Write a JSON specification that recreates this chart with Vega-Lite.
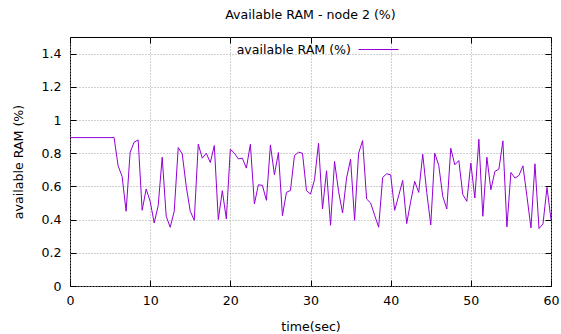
{
  "$schema": "https://vega.github.io/schema/vega-lite/v6.json",
  "width": 481,
  "height": 249,
  "autosize": {"type": "none"},
  "padding": {"left": 70, "top": 37, "right": 10, "bottom": 48},
  "background": "white",
  "title": {"text": "Available RAM - node 2 (%)", "font": "DejaVu Sans", "fontSize": 12.6, "fontWeight": "normal", "color": "black", "offset": 7.5},
  "config": {
    "view": {"stroke": "black", "strokeWidth": 1},
    "axis": {"labelFont": "DejaVu Sans", "labelFontSize": 12.6, "labelColor": "black", "titleFont": "DejaVu Sans", "titleFontSize": 12.6, "titleFontWeight": "normal", "titleColor": "black", "domain": false, "tickColor": "black", "gridColor": "#a0a0a0", "gridDash": [1, 2], "gridWidth": 1, "labelFlush": false}
  },
  "data": {"values": [
    {"t": 0, "v": 0.894, "s": "available RAM (%)"},
    {"t": 5.5, "v": 0.894, "s": "available RAM (%)"},
    {"t": 6.0, "v": 0.724, "s": "available RAM (%)"},
    {"t": 6.5, "v": 0.66, "s": "available RAM (%)"},
    {"t": 7.0, "v": 0.45, "s": "available RAM (%)"},
    {"t": 7.5, "v": 0.806, "s": "available RAM (%)"},
    {"t": 8.0, "v": 0.866, "s": "available RAM (%)"},
    {"t": 8.5, "v": 0.88, "s": "available RAM (%)"},
    {"t": 9.0, "v": 0.456, "s": "available RAM (%)"},
    {"t": 9.5, "v": 0.584, "s": "available RAM (%)"},
    {"t": 10.0, "v": 0.51, "s": "available RAM (%)"},
    {"t": 10.5, "v": 0.38, "s": "available RAM (%)"},
    {"t": 11.0, "v": 0.484, "s": "available RAM (%)"},
    {"t": 11.5, "v": 0.776, "s": "available RAM (%)"},
    {"t": 12.0, "v": 0.42, "s": "available RAM (%)"},
    {"t": 12.5, "v": 0.354, "s": "available RAM (%)"},
    {"t": 13.0, "v": 0.45, "s": "available RAM (%)"},
    {"t": 13.5, "v": 0.834, "s": "available RAM (%)"},
    {"t": 14.0, "v": 0.796, "s": "available RAM (%)"},
    {"t": 14.5, "v": 0.6, "s": "available RAM (%)"},
    {"t": 15.0, "v": 0.45, "s": "available RAM (%)"},
    {"t": 15.5, "v": 0.396, "s": "available RAM (%)"},
    {"t": 16.0, "v": 0.854, "s": "available RAM (%)"},
    {"t": 16.5, "v": 0.77, "s": "available RAM (%)"},
    {"t": 17.0, "v": 0.8, "s": "available RAM (%)"},
    {"t": 17.5, "v": 0.744, "s": "available RAM (%)"},
    {"t": 18.0, "v": 0.846, "s": "available RAM (%)"},
    {"t": 18.5, "v": 0.4, "s": "available RAM (%)"},
    {"t": 19.0, "v": 0.574, "s": "available RAM (%)"},
    {"t": 19.5, "v": 0.404, "s": "available RAM (%)"},
    {"t": 20.0, "v": 0.824, "s": "available RAM (%)"},
    {"t": 20.5, "v": 0.8, "s": "available RAM (%)"},
    {"t": 21.0, "v": 0.766, "s": "available RAM (%)"},
    {"t": 21.5, "v": 0.77, "s": "available RAM (%)"},
    {"t": 22.0, "v": 0.71, "s": "available RAM (%)"},
    {"t": 22.5, "v": 0.854, "s": "available RAM (%)"},
    {"t": 23.0, "v": 0.494, "s": "available RAM (%)"},
    {"t": 23.5, "v": 0.61, "s": "available RAM (%)"},
    {"t": 24.0, "v": 0.606, "s": "available RAM (%)"},
    {"t": 24.5, "v": 0.516, "s": "available RAM (%)"},
    {"t": 25.0, "v": 0.85, "s": "available RAM (%)"},
    {"t": 25.5, "v": 0.67, "s": "available RAM (%)"},
    {"t": 26.0, "v": 0.804, "s": "available RAM (%)"},
    {"t": 26.5, "v": 0.424, "s": "available RAM (%)"},
    {"t": 27.0, "v": 0.564, "s": "available RAM (%)"},
    {"t": 27.5, "v": 0.576, "s": "available RAM (%)"},
    {"t": 28.0, "v": 0.786, "s": "available RAM (%)"},
    {"t": 28.5, "v": 0.806, "s": "available RAM (%)"},
    {"t": 29.0, "v": 0.8, "s": "available RAM (%)"},
    {"t": 29.5, "v": 0.574, "s": "available RAM (%)"},
    {"t": 30.0, "v": 0.554, "s": "available RAM (%)"},
    {"t": 30.5, "v": 0.64, "s": "available RAM (%)"},
    {"t": 31.0, "v": 0.86, "s": "available RAM (%)"},
    {"t": 31.5, "v": 0.464, "s": "available RAM (%)"},
    {"t": 32.0, "v": 0.694, "s": "available RAM (%)"},
    {"t": 32.5, "v": 0.366, "s": "available RAM (%)"},
    {"t": 33.0, "v": 0.75, "s": "available RAM (%)"},
    {"t": 33.5, "v": 0.57, "s": "available RAM (%)"},
    {"t": 34.0, "v": 0.44, "s": "available RAM (%)"},
    {"t": 34.5, "v": 0.65, "s": "available RAM (%)"},
    {"t": 35.0, "v": 0.764, "s": "available RAM (%)"},
    {"t": 35.5, "v": 0.396, "s": "available RAM (%)"},
    {"t": 36.0, "v": 0.8, "s": "available RAM (%)"},
    {"t": 36.5, "v": 0.876, "s": "available RAM (%)"},
    {"t": 37.0, "v": 0.524, "s": "available RAM (%)"},
    {"t": 37.5, "v": 0.5, "s": "available RAM (%)"},
    {"t": 38.0, "v": 0.426, "s": "available RAM (%)"},
    {"t": 38.5, "v": 0.354, "s": "available RAM (%)"},
    {"t": 39.0, "v": 0.654, "s": "available RAM (%)"},
    {"t": 39.5, "v": 0.676, "s": "available RAM (%)"},
    {"t": 40.0, "v": 0.67, "s": "available RAM (%)"},
    {"t": 40.5, "v": 0.456, "s": "available RAM (%)"},
    {"t": 41.0, "v": 0.544, "s": "available RAM (%)"},
    {"t": 41.5, "v": 0.636, "s": "available RAM (%)"},
    {"t": 42.0, "v": 0.376, "s": "available RAM (%)"},
    {"t": 42.5, "v": 0.51, "s": "available RAM (%)"},
    {"t": 43.0, "v": 0.63, "s": "available RAM (%)"},
    {"t": 43.5, "v": 0.564, "s": "available RAM (%)"},
    {"t": 44.0, "v": 0.794, "s": "available RAM (%)"},
    {"t": 44.5, "v": 0.564, "s": "available RAM (%)"},
    {"t": 45.0, "v": 0.368, "s": "available RAM (%)"},
    {"t": 45.5, "v": 0.8, "s": "available RAM (%)"},
    {"t": 46.0, "v": 0.726, "s": "available RAM (%)"},
    {"t": 46.5, "v": 0.54, "s": "available RAM (%)"},
    {"t": 47.0, "v": 0.464, "s": "available RAM (%)"},
    {"t": 47.5, "v": 0.83, "s": "available RAM (%)"},
    {"t": 48.0, "v": 0.73, "s": "available RAM (%)"},
    {"t": 48.5, "v": 0.756, "s": "available RAM (%)"},
    {"t": 49.0, "v": 0.55, "s": "available RAM (%)"},
    {"t": 49.5, "v": 0.51, "s": "available RAM (%)"},
    {"t": 50.0, "v": 0.74, "s": "available RAM (%)"},
    {"t": 50.5, "v": 0.53, "s": "available RAM (%)"},
    {"t": 51.0, "v": 0.884, "s": "available RAM (%)"},
    {"t": 51.5, "v": 0.42, "s": "available RAM (%)"},
    {"t": 52.0, "v": 0.776, "s": "available RAM (%)"},
    {"t": 52.5, "v": 0.58, "s": "available RAM (%)"},
    {"t": 53.0, "v": 0.69, "s": "available RAM (%)"},
    {"t": 53.5, "v": 0.704, "s": "available RAM (%)"},
    {"t": 54.0, "v": 0.874, "s": "available RAM (%)"},
    {"t": 54.5, "v": 0.356, "s": "available RAM (%)"},
    {"t": 55.0, "v": 0.684, "s": "available RAM (%)"},
    {"t": 55.5, "v": 0.65, "s": "available RAM (%)"},
    {"t": 56.0, "v": 0.666, "s": "available RAM (%)"},
    {"t": 56.5, "v": 0.724, "s": "available RAM (%)"},
    {"t": 57.0, "v": 0.54, "s": "available RAM (%)"},
    {"t": 57.5, "v": 0.35, "s": "available RAM (%)"},
    {"t": 58.0, "v": 0.736, "s": "available RAM (%)"},
    {"t": 58.5, "v": 0.346, "s": "available RAM (%)"},
    {"t": 59.0, "v": 0.374, "s": "available RAM (%)"},
    {"t": 59.5, "v": 0.594, "s": "available RAM (%)"},
    {"t": 60.0, "v": 0.4, "s": "available RAM (%)"}
  ]},
  "resolve": {"axis": {"x": "independent", "y": "independent"}},
  "layer": [
    {
      "mark": {"type": "line", "strokeWidth": 1, "clip": true},
      "encoding": {
        "x": {"field": "t", "type": "quantitative", "scale": {"domain": [0, 60], "nice": false, "zero": false},
              "axis": {"title": "time(sec)", "values": [0, 10, 20, 30, 40, 50, 60], "tickSize": -6, "labelPadding": 14, "grid": true, "titlePadding": 14}},
        "y": {"field": "v", "type": "quantitative", "scale": {"domain": [0, 1.5], "nice": false},
              "axis": {"title": "available RAM (%)", "values": [0, 0.2, 0.4, 0.6, 0.8, 1, 1.2, 1.4], "format": "~g", "tickSize": -6, "labelPadding": 15, "grid": true, "titlePadding": 15}},
        "color": {"field": "s", "type": "nominal", "scale": {"range": ["#9400d3"]},
                  "legend": {"title": null, "orient": "none", "legendX": 288, "legendY": -8, "symbolType": "stroke", "symbolSize": 1600, "symbolStrokeWidth": 1, "labelAlign": "right", "labelOffset": -48, "labelFont": "DejaVu Sans", "labelFontSize": 12.6, "labelColor": "black", "padding": 0}}
      }
    },
    {
      "mark": {"type": "line", "strokeOpacity": 0},
      "encoding": {
        "x": {"field": "t", "type": "quantitative", "axis": {"orient": "top", "values": [0, 10, 20, 30, 40, 50, 60], "labels": false, "tickSize": -6, "grid": false, "title": null}},
        "y": {"field": "v", "type": "quantitative", "axis": {"orient": "right", "values": [0, 0.2, 0.4, 0.6, 0.8, 1, 1.2, 1.4], "labels": false, "tickSize": -6, "grid": false, "title": null}}
      }
    }
  ]
}
